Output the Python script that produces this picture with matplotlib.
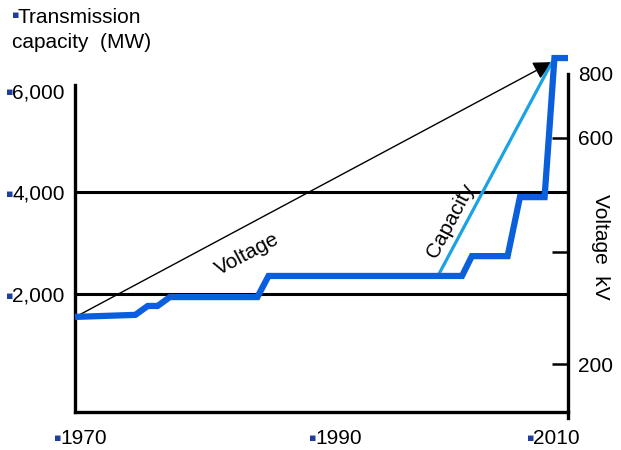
import matplotlib
matplotlib.use('Agg')
import matplotlib.pyplot as plt
from matplotlib.transforms import ScaledTranslation

plt.rcParams['font.family'] = ['Liberation Sans', 'DejaVu Sans']

# step line (year, MW)
years = [1970, 1974.9, 1975.9, 1976.7, 1977.7, 1984.8, 1985.7, 2001.4,
         2002.2, 2005.1, 2006.1, 2008.1, 2008.9, 2010]
mw = [1550, 1590, 1765, 1765, 1940, 1940, 2355, 2355,
      2745, 2745, 3905, 3905, 6640, 6640]

# trend lines
voltage_x = [1970.2, 2008.7]
voltage_y = [1570, 6560]
capacity_x = [1999.4, 2008.7]
capacity_y = [2335, 6560]

mw_ticks = [2000, 4000, 6000]
mw_labels = ['2,000', '4,000', '6,000']
year_ticks = [1970, 1990, 2010]
year_labels = ['1970', '1990', '2010']
year_nudge_px = [8.5, 17, -11.5]
kv_labels = ['800', '600', '', '200']
kv_pos = [6335, 5075, 2830, 620]  # kV tick heights on the MW scale

step_blue = '#0A5FDC'
light_blue = '#1AA2E6'
bullet_blue = '#1F3F9F'
fs = 15

fig = plt.figure(figsize=(6.21, 4.5), dpi=100)
ax = fig.add_axes([75 / 621, 1 - 412 / 450, 493 / 621, 356 / 450])
ax.set_xlim(1970, 2010)
ax.set_ylim(-320, 6680)

for g in mw_ticks[:2]:
    ax.axhline(g, color='black', lw=2.2, zorder=1)

ax.annotate('', xy=(voltage_x[1], voltage_y[1]), xytext=(voltage_x[0], voltage_y[0]),
            arrowprops=dict(arrowstyle='-|>', color='black', lw=1.0,
                            mutation_scale=28, shrinkA=0, shrinkB=0), zorder=2)
ax.plot(capacity_x, capacity_y, color=light_blue, lw=2.3, zorder=3,
        solid_capstyle='butt')
ax.plot(years, mw, color=step_blue, lw=4.5, zorder=4, clip_on=False,
        solid_joinstyle='miter', solid_capstyle='butt')

ax.text(1983.95, 2790, 'Voltage', fontsize=fs, rotation=28,
        ha='center', va='center')
ax.text(2000.45, 3450, 'Capacity', fontsize=fs, rotation=62,
        ha='center', va='center')

for s in ['top', 'right']:
    ax.spines[s].set_visible(False)
for s in ['left', 'bottom']:
    ax.spines[s].set_linewidth(2.4)
ax.spines['left'].set_bounds(-320, 6110)

ax.set_yticks(mw_ticks, mw_labels)
ax.set_xticks(year_ticks, year_labels)
ax.tick_params(axis='y', length=0, pad=7.5, labelsize=fs)
ax.tick_params(axis='x', length=0, pad=12, labelsize=fs)
for lab, dx in zip(ax.get_xticklabels(), year_nudge_px):
    lab.set_transform(lab.get_transform() + ScaledTranslation(dx / 100, 0, fig.dpi_scale_trans))

ax2 = ax.twinx()
ax2.set_ylim(ax.get_ylim())
for s in ['top', 'left', 'bottom']:
    ax2.spines[s].set_visible(False)
ax2.spines['right'].set_linewidth(2.4)
ax2.spines['right'].set_bounds(-440, 6335)
ax2.set_yticks(kv_pos, kv_labels)
ax2.tick_params(axis='y', direction='in', length=11.5, width=1.8, pad=7, labelsize=fs)
ax2.yaxis.get_major_ticks()[0].tick2line.set_visible(False)
ax2.set_ylabel('Voltage  kV', fontsize=fs, rotation=270)
ax2.yaxis.set_label_coords(1 + 42 / 493, (412 - 247) / 356)

fig.text(18 / 621, 1 - 23 / 450, 'Transmission', fontsize=fs, va='baseline')
fig.text(12 / 621, 1 - 48 / 450, 'capacity  (MW)', fontsize=fs, va='baseline')

# small blue bullets in front of labels
fig.canvas.draw()
r = fig.canvas.get_renderer()
bullets = [(18, 450 - 15.5)]
for lab in ax.get_yticklabels() + ax.get_xticklabels():
    bb = lab.get_window_extent(r)
    bullets.append((bb.x0, (bb.y0 + bb.y1) / 2 + 0.5))
for bx, by in bullets:
    fig.text(bx + 1.5, by, '\u25aa', family='DejaVu Sans', fontsize=8,
             color=bullet_blue, ha='right', va='center',
             transform=None)

fig.savefig('out.png', dpi=100)
